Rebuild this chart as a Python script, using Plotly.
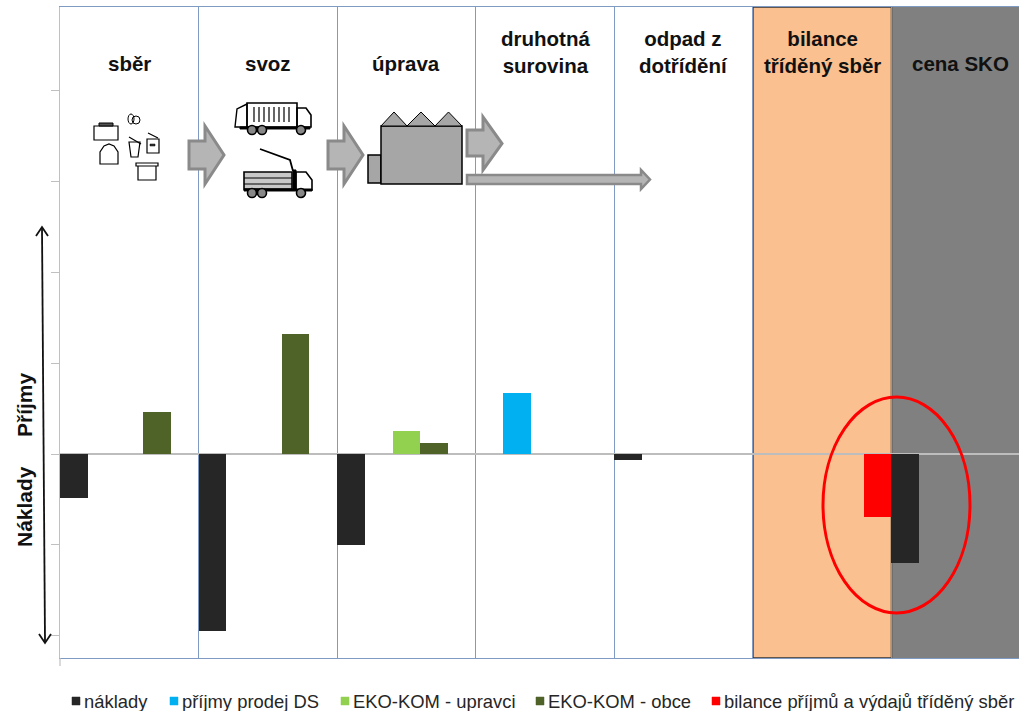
import plotly.graph_objects as go

# ---- data ----
positions = [0.5, 1.5, 2.5, 3.5, 4.5, 5.5, 6.5]
stages = ["sběr", "svoz", "úprava", "druhotná<br>surovina", "odpad z<br>dotřídění", "bilance<br>tříděný sběr", "cena SKO"]
naklady = [-0.49, -1.95, -1.0, None, -0.07, None, -1.2]
prijmy_ds = [None, None, None, 0.67, None, None, None]
ekokom_upravci = [None, None, 0.25, None, None, None, None]
ekokom_obce = [0.46, 1.32, 0.12, None, None, None, None]
bilance = [None, None, None, None, None, -0.69, None]
series_names = ["náklady", "příjmy prodej DS", "EKO-KOM - upravci", "EKO-KOM - obce", "bilance příjmů a výdajů tříděný sběr"]
series_values = [naklady, prijmy_ds, ekokom_upravci, ekokom_obce, bilance]
series_colors = ["#262626", "#00B0F0", "#92D050", "#4F6228", "#FF0000"]
y_ticks = [-2, -1, 0, 1, 2, 3, 4]

# ---- layout geometry (page pixels) ----
W, H = 1019, 711
L, T, R, B = 60, 7, 1019, 658
CAT = 138.58
UNIT = 90.8
ZERO = 454


def px(x):
    return (x - L) / (R - L)


def py(y):
    return (B - y) / (B - T)


def P(points, close=True):
    d = "M" + " L".join(f"{px(x):.5f},{py(y):.5f}" for x, y in points)
    return d + (" Z" if close else "")


shapes = []


def add_path(points, fill="rgba(0,0,0,0)", line="#000000", width=1.2, close=True, layer="above"):
    shapes.append(dict(type="path", xref="paper", yref="paper", path=P(points, close), fillcolor=fill,
                       line=dict(color=line, width=width), layer=layer))


def add_rect(x0, y0, x1, y1, **kw):
    add_path([(x0, y0), (x1, y0), (x1, y1), (x0, y1)], **kw)


def add_circle(cx, cy, rx, ry=None, fill="rgba(0,0,0,0)", line="#000000", width=1.2):
    ry = rx if ry is None else ry
    shapes.append(dict(type="circle", xref="paper", yref="paper", x0=px(cx - rx), x1=px(cx + rx),
                       y0=py(cy + ry), y1=py(cy - ry), fillcolor=fill, line=dict(color=line, width=width), layer="above"))


# column backgrounds
shapes.append(dict(type="rect", xref="x", yref="paper", x0=6, x1=7, y0=0, y1=1, fillcolor="#808080",
                   line=dict(width=0), layer="below"))
shapes.append(dict(type="rect", xref="x", yref="paper", x0=5, x1=6, y0=0, y1=1, fillcolor="#FAC090",
                   line=dict(color="#333333", width=1.5), layer="between"))

# block arrows
ARROW_FILL, ARROW_LINE = "#B5B5B5", "#8A8A8A"


def block_arrow(x0, xn, x1, yt, ys0, ys1, yb, width=3):
    mid = (yt + yb) / 2
    add_path([(x0, ys0), (xn, ys0), (xn, yt), (x1, mid), (xn, yb), (xn, ys1), (x0, ys1)],
             fill=ARROW_FILL, line=ARROW_LINE, width=width)


block_arrow(189, 205, 224, 126, 141, 169, 184)
block_arrow(328, 344, 363, 126, 141, 169, 184)
block_arrow(467, 483, 502, 117, 130, 156, 170)
block_arrow(467, 641, 650, 170, 175, 184, 189, width=2.5)

# factory
add_rect(368, 155, 381, 183, fill="#A6A6A6", width=1.5)
add_rect(381, 126, 462, 184, fill="#A6A6A6", width=1.5)
for a, b in [(381, 407), (407, 435), (435, 462)]:
    add_path([(a, 126), ((a + b) / 2, 112), (b, 126)], fill="#A6A6A6", width=1)

# containers
add_rect(94, 126, 118, 140)
add_rect(99, 123, 113, 126, fill="#555555", width=1)
add_path([(100, 164), (100, 152), (104, 146), (109, 144), (114, 146), (118, 152), (118, 164)])
add_circle(131, 119, 3, 5, width=1)
add_circle(136, 120, 4, 4, width=1)
add_path([(129, 142), (140, 142), (138, 157), (131, 157)])
add_path([(129, 137), (141, 144)], close=False)
add_rect(147, 139, 159, 153)
add_path([(148, 133), (158, 138)], close=False)
add_rect(150, 144, 155, 146, fill="#333333", width=0.5)
add_rect(136, 163, 158, 166)
add_path([(138, 166), (138, 180), (156, 180), (156, 166)], close=False)

# trucks
add_rect(247, 103, 297, 127, width=1.6)
for sx in [254, 259, 264, 269, 274, 279, 284, 289]:
    add_path([(sx, 107), (sx, 122)], close=False)
add_path([(247, 104), (237, 109), (235, 127), (247, 127)], width=1.4)
add_path([(297, 108), (306, 108), (311, 115), (311, 127), (297, 127)], width=1.6)
add_rect(240, 127, 310, 129, fill="#000000", width=1)
for cx in [252, 262, 301]:
    add_circle(cx, 130, 4.5, fill="#888888", width=1.6)
add_path([(260, 149), (290, 160), (293, 171)], close=False, width=1.8)
add_rect(244, 172, 292, 189, fill="#C8C8C8", width=1.6)
for ly in [178, 184]:
    add_path([(244, ly), (292, ly)], close=False)
add_rect(293, 170, 296, 190, fill="#000000", width=1)
add_path([(296, 172), (306, 172), (312, 180), (312, 190), (296, 190)], width=1.6)
add_rect(244, 189, 312, 191, fill="#000000", width=1)
for cx in [252, 262, 301]:
    add_circle(cx, 193, 4.5, fill="#888888", width=1.6)

# red ellipse
add_circle(896.5, 505, 73.5, 108, line="#FF0000", width=3)

# left axis stub below the plot area
add_path([(60, 658), (60, 666)], close=False, line="#C0C0C0", width=1.2)

# double-headed arrow
add_path([(42, 228), (45, 642)], close=False, line="#111111", width=1.8)
add_path([(36, 236), (42, 227), (48, 236)], close=False, line="#111111", width=1.8)
add_path([(39, 634), (45, 643), (51, 634)], close=False, line="#111111", width=1.8)

annotations = []
HEAD_FONT = dict(family="Liberation Sans, Arial, sans-serif", size=21, color="#111111")
for pos, label in zip(positions, stages):
    multi = "<br>" in label
    annotations.append(dict(xref="x", yref="paper", x=pos, y=py(51.5 if multi else 64), text="<b>" + label + "</b>",
                            showarrow=False, font=dict(HEAD_FONT, size=20.5), align="center", xanchor="center", yanchor="middle"))
for label, x, y in [("Příjmy", 24, 405), ("Náklady", 24, 507)]:
    annotations.append(dict(xref="paper", yref="paper", x=px(x), y=py(y), text="<b>" + label + "</b>", textangle=-90,
                            showarrow=False, font=HEAD_FONT, xanchor="center", yanchor="middle"))

# legend row
legend_x = [72, 170, 341, 536, 712]
for name, color, x in zip(series_names, series_colors, legend_x):
    add_rect(x, 697, x + 8, 705, fill=color, line=color, width=0.5)
    annotations.append(dict(xref="paper", yref="paper", x=px(x + 10), y=py(701), text=name, showarrow=False,
                            xanchor="left", yanchor="middle",
                            font=dict(family="Liberation Sans, Arial, sans-serif", size=18.4, color="#262626")))

fig = go.Figure()
for name, values, color in zip(series_names, series_values, series_colors):
    fig.add_trace(go.Bar(x=positions, y=values, name=name, marker=dict(color=color, line=dict(width=0))))

fig.update_layout(
    width=W, height=H, margin=dict(l=L, r=W - R, t=T, b=H - B, autoexpand=False),
    barmode="group", bargap=0, bargroupgap=0, showlegend=False,
    paper_bgcolor="#FFFFFF", plot_bgcolor="#FFFFFF",
    shapes=shapes, annotations=annotations,
    xaxis=dict(range=[0, (R - L) / CAT], tick0=0, dtick=1, showticklabels=False, ticks="", showgrid=True,
               gridcolor="#7F9BC4", gridwidth=1, zeroline=False, showline=True, linecolor="#7F9BC4",
               linewidth=1, mirror=True),
    yaxis=dict(range=[(ZERO - B) / UNIT, (ZERO - T) / UNIT], tickmode="array", tickvals=y_ticks,
               showticklabels=False, ticks="outside", ticklen=8, tickcolor="#C0C0C0", tickwidth=1,
               showgrid=False, zeroline=True, zerolinecolor="#BDBDBD", zerolinewidth=1.5,
               showline=True, linecolor="#C0C0C0", linewidth=1.2),
)

fig.write_html("out.html", config={"displayModeBar": False}, post_script="document.body.style.margin='0';")
